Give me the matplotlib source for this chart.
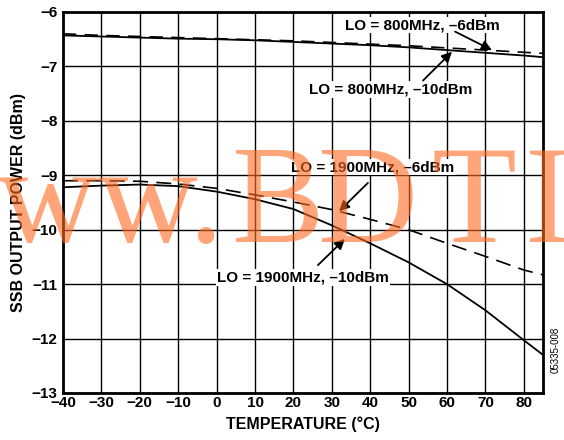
import matplotlib
matplotlib.use("Agg")
import matplotlib.pyplot as plt

plt.rcParams['font.family'] = ['Liberation Sans', 'DejaVu Sans']

temps = [-40, -30, -20, -10, 0, 10, 20, 30, 40, 50, 60, 70, 80, 85]
lo800_m10 = [-6.43, -6.45, -6.47, -6.49, -6.50, -6.52, -6.55, -6.58, -6.61, -6.65, -6.70, -6.75, -6.80, -6.83]
lo800_m6 = [-6.40, -6.43, -6.45, -6.47, -6.49, -6.51, -6.53, -6.56, -6.59, -6.62, -6.66, -6.70, -6.74, -6.76]
lo1900_m10 = [-9.22, -9.19, -9.17, -9.20, -9.30, -9.44, -9.62, -9.92, -10.25, -10.60, -11.00, -11.48, -12.03, -12.30]
lo1900_m6 = [-9.10, -9.10, -9.11, -9.16, -9.24, -9.36, -9.49, -9.63, -9.81, -10.00, -10.25, -10.49, -10.74, -10.83]

xticks = [-40, -30, -20, -10, 0, 10, 20, 30, 40, 50, 60, 70, 80]
yticks = [-13, -12, -11, -10, -9, -8, -7, -6]

fig = plt.figure(figsize=(5.64, 4.40), dpi=100)
ax = fig.add_axes([63/564, 1-393/440, 480/564, 381/440])

ax.plot(temps, lo800_m10, color='black', lw=1.3)
ax.plot(temps, lo800_m6, color='black', lw=1.2, linestyle=(0, (8, 5)))
ax.plot(temps, lo1900_m10, color='black', lw=1.3)
ax.plot(temps, lo1900_m6, color='black', lw=1.2, linestyle=(0, (9, 5)))

ax.set_xlim(-40, 85)
ax.set_ylim(-13, -6)
ax.set_xticks(xticks)
ax.set_yticks(yticks)
ax.grid(True, color='black', lw=1.0)
ax.set_axisbelow(True)
for s in ax.spines.values():
    s.set_linewidth(2.0)
ax.tick_params(length=0, labelsize=11, pad=4)
ax.tick_params(axis='x', pad=2)
for lab in ax.get_xticklabels() + ax.get_yticklabels():
    lab.set_fontweight('bold')
ax.set_xlabel('TEMPERATURE (°C)', fontsize=11.5, fontweight='bold', labelpad=5)
ax.set_ylabel('SSB OUTPUT POWER (dBm)', fontsize=11.5, fontweight='bold', labelpad=4)

box = dict(facecolor='white', edgecolor='none', pad=1.0)
tkw = dict(fontsize=11, fontweight='bold', ha='center', va='center', bbox=box, zorder=4)
ax.text(53.6, -6.24, 'LO = 800MHz, –6dBm', **tkw)
ax.text(45.3, -7.43, 'LO = 800MHz, –10dBm', **tkw)
ax.text(40.7, -8.85, 'LO = 1900MHz, –6dBm', **tkw)
ax.text(22.5, -10.88, 'LO = 1900MHz, –10dBm', **tkw)

akw = dict(arrowstyle='-|>', color='black', lw=1.3, mutation_scale=15, shrinkA=0, shrinkB=0)
ax.annotate('', xy=(71.7, -6.70), xytext=(62.1, -6.36), arrowprops=akw, zorder=5)
ax.annotate('', xy=(61.3, -6.73), xytext=(53.75, -7.26), arrowprops=akw, zorder=5)
ax.annotate('', xy=(31.9, -9.66), xytext=(39.4, -9.14), arrowprops=akw, zorder=5)
ax.annotate('', xy=(33.4, -10.17), xytext=(26.4, -10.65), arrowprops=akw, zorder=5)

fig.text(556/564, 1-350/440, '05335-008', rotation=90, fontsize=7, ha='center', va='center')

wm = dict(family=['Liberation Serif', 'DejaVu Serif'], fontsize=100, color='#FF6A20',
          alpha=0.6, va='baseline', zorder=10)
base = 1 - 242/440
fig.text(224/564, base, 'www.', ha='right', **wm)
fig.text(231/564, base, 'B', ha='left', **wm)
fig.text(317/564, base, 'D', ha='left', **wm)
fig.text(431/564, base, 'T', ha='left', **wm)
fig.text(525/564, base, 'IC.com', ha='left', **wm)

fig.savefig('out.png', dpi=100)
